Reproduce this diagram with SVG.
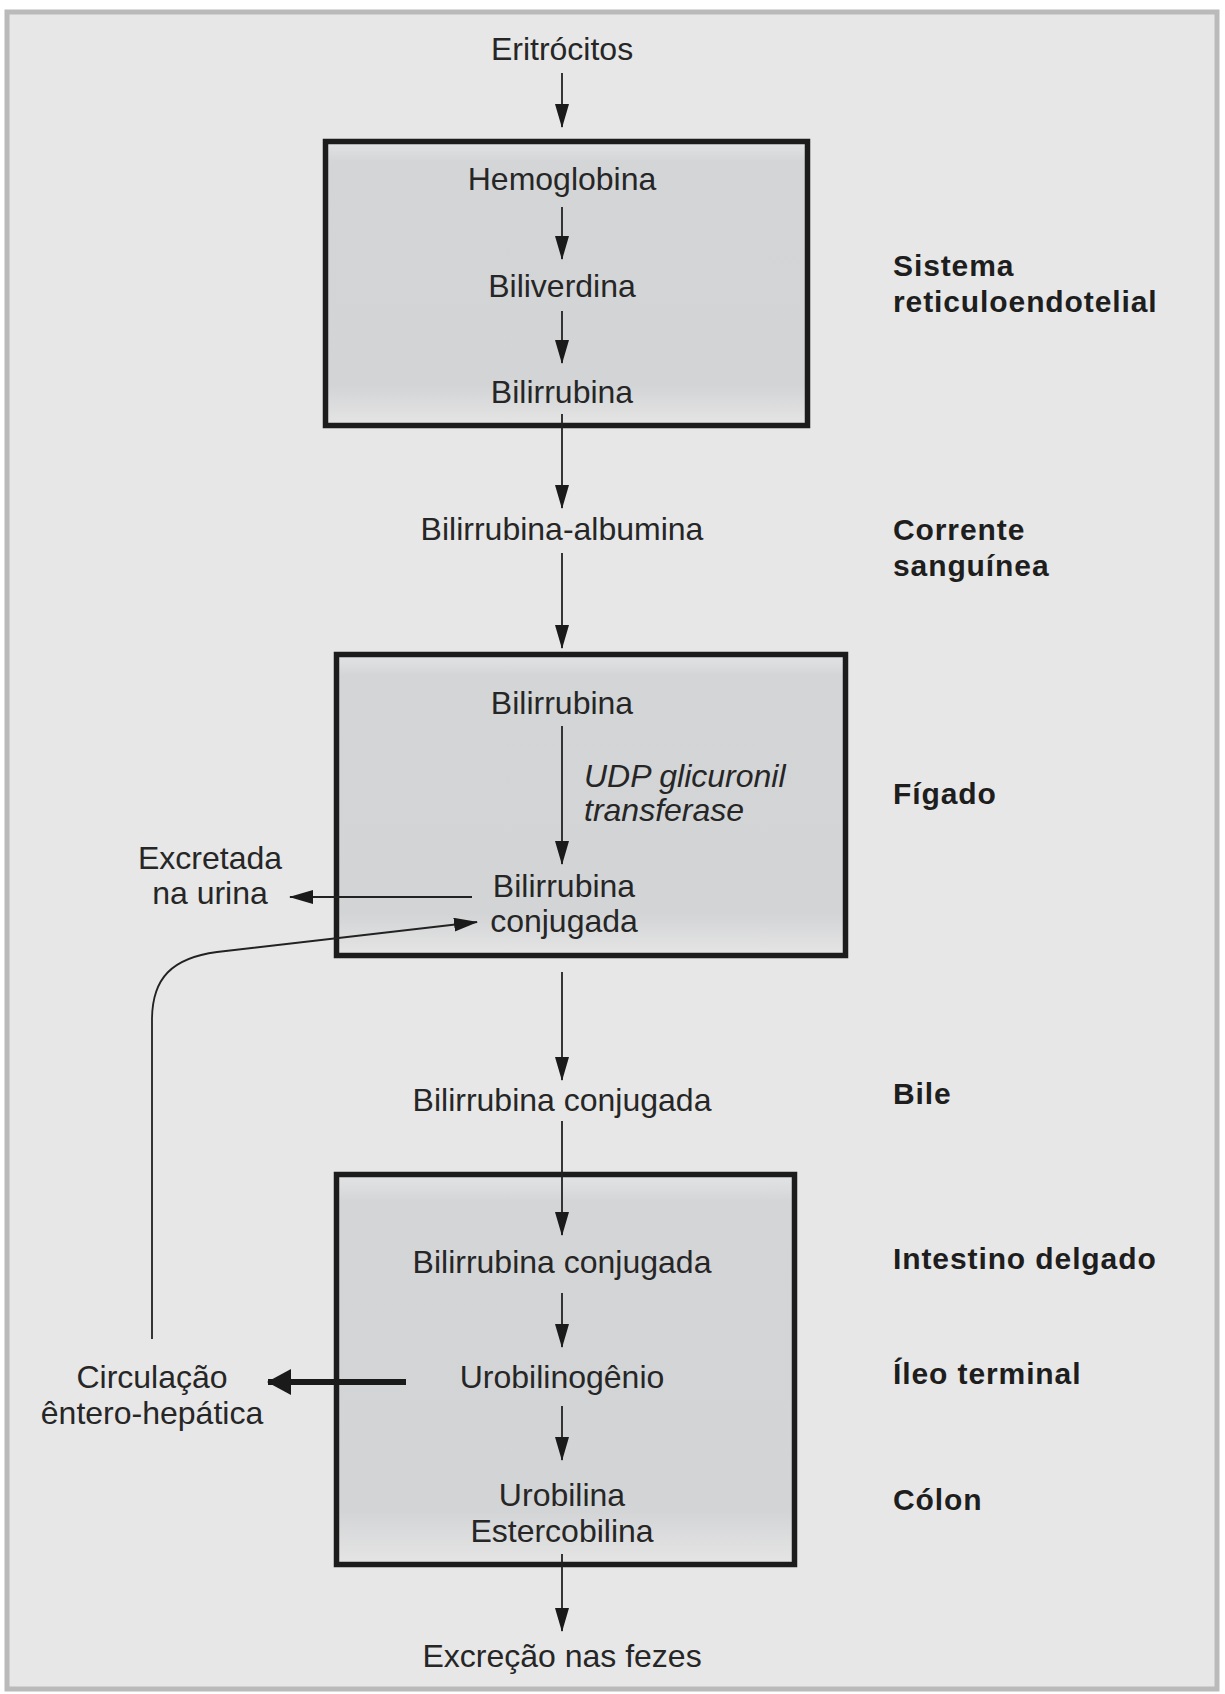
<svg xmlns="http://www.w3.org/2000/svg" width="1225" height="1694" viewBox="0 0 1225 1694">
  <style>
    .lbl { font-family: "Liberation Sans", Arial, Helvetica, sans-serif; font-size: 32px; fill: #262626; text-anchor: middle; }
    .it { font-style: italic; text-anchor: start; }
    .side { font-family: "Liberation Sans", Arial, Helvetica, sans-serif; font-size: 30px; font-weight: bold; fill: #1e1e1e; letter-spacing: 0.9px; }
    .box { fill: url(#boxFill); stroke: #1c1c1c; stroke-width: 5.5; }
    .flow { fill: none; stroke: #222; stroke-width: 1.8; }
    .thick { fill: none; stroke: #1a1a1a; stroke-width: 6; }
  </style>
  <defs>
    <linearGradient id="boxFill" x1="0" y1="0" x2="0" y2="1">
      <stop offset="0" stop-color="#e3e4e5"/>
      <stop offset="0.07" stop-color="#d4d5d7"/>
      <stop offset="0.86" stop-color="#d3d4d6"/>
      <stop offset="1" stop-color="#e5e5e5"/>
    </linearGradient>
    <marker id="head" viewBox="0 0 24 14" refX="23" refY="7" markerWidth="24" markerHeight="14" markerUnits="userSpaceOnUse" orient="auto">
      <path d="M0,0 L24,7 L0,14 Z" fill="#1a1a1a"/>
    </marker>
    <marker id="headBig" viewBox="0 0 24 26" refX="23" refY="13" markerWidth="24" markerHeight="26" markerUnits="userSpaceOnUse" orient="auto">
      <path d="M0,0 L24,13 L0,26 Z" fill="#1a1a1a"/>
    </marker>
  </defs>

  <!-- page -->
  <rect x="0" y="0" width="1225" height="1694" fill="#ffffff"/>
  <rect x="7" y="12" width="1210" height="1677" fill="#e7e7e7" stroke="#bababa" stroke-width="5"/>

  <!-- boxes -->
  <g id="box-sre"><rect class="box" x="325.5" y="141.5" width="482" height="284"/></g>
  <g id="box-figado"><rect class="box" x="336.5" y="654.5" width="509" height="301"/></g>
  <g id="box-intestino"><rect class="box" x="336.5" y="1174.5" width="458" height="390"/></g>

  <!-- connectors -->
  <g id="connectors">
    <line class="flow" x1="562" y1="73" x2="562" y2="127" marker-end="url(#head)"/>
    <line class="flow" x1="562" y1="207" x2="562" y2="259" marker-end="url(#head)"/>
    <line class="flow" x1="562" y1="311" x2="562" y2="363" marker-end="url(#head)"/>
    <line class="flow" x1="562" y1="414" x2="562" y2="508" marker-end="url(#head)"/>
    <line class="flow" x1="562" y1="553" x2="562" y2="648" marker-end="url(#head)"/>
    <line class="flow" x1="562" y1="726" x2="562" y2="864" marker-end="url(#head)"/>
    <line class="flow" x1="472" y1="897" x2="290" y2="897" marker-end="url(#head)"/>
    <path class="flow" d="M152,1339 L152,1020 C152,978 172,958 217,952 L477,922" marker-end="url(#head)"/>
    <line class="flow" x1="562" y1="972" x2="562" y2="1080" marker-end="url(#head)"/>
    <line class="flow" x1="562" y1="1121" x2="562" y2="1235" marker-end="url(#head)"/>
    <line class="flow" x1="562" y1="1293" x2="562" y2="1347" marker-end="url(#head)"/>
    <line class="thick" x1="406" y1="1382" x2="268" y2="1382" marker-end="url(#headBig)"/>
    <line class="flow" x1="562" y1="1406" x2="562" y2="1460" marker-end="url(#head)"/>
    <line class="flow" x1="562" y1="1554" x2="562" y2="1631" marker-end="url(#head)"/>
  </g>

  <!-- nodes -->
  <g id="n-eritrocitos"><text class="lbl" x="562" y="60">Eritrócitos</text></g>
  <g id="n-hemoglobina"><text class="lbl" x="562" y="190">Hemoglobina</text></g>
  <g id="n-biliverdina"><text class="lbl" x="562" y="297">Biliverdina</text></g>
  <g id="n-bilirrubina1"><text class="lbl" x="562" y="403">Bilirrubina</text></g>
  <g id="n-albumina"><text class="lbl" x="562" y="540">Bilirrubina-albumina</text></g>
  <g id="n-bilirrubina2"><text class="lbl" x="562" y="714">Bilirrubina</text></g>
  <g id="n-enzima">
    <text class="lbl it" x="584" y="787">UDP glicuronil</text>
    <text class="lbl it" x="584" y="821">transferase</text>
  </g>
  <g id="n-conjugada1">
    <text class="lbl" x="564" y="897">Bilirrubina</text>
    <text class="lbl" x="564" y="932">conjugada</text>
  </g>
  <g id="n-urina">
    <text class="lbl" x="210" y="869">Excretada</text>
    <text class="lbl" x="210" y="904">na urina</text>
  </g>
  <g id="n-conjugada-bile"><text class="lbl" x="562" y="1111">Bilirrubina conjugada</text></g>
  <g id="n-conjugada-int"><text class="lbl" x="562" y="1273">Bilirrubina conjugada</text></g>
  <g id="n-urobilinogenio"><text class="lbl" x="562" y="1388">Urobilinogênio</text></g>
  <g id="n-circulacao">
    <text class="lbl" x="152" y="1388">Circulação</text>
    <text class="lbl" x="152" y="1424">êntero-hepática</text>
  </g>
  <g id="n-urobilina">
    <text class="lbl" x="562" y="1506">Urobilina</text>
    <text class="lbl" x="562" y="1542">Estercobilina</text>
  </g>
  <g id="n-fezes"><text class="lbl" x="562" y="1667">Excreção nas fezes</text></g>

  <!-- compartment labels -->
  <g id="side-labels">
    <text class="side" x="893" y="276">Sistema</text>
    <text class="side" x="893" y="312">reticuloendotelial</text>
    <text class="side" x="893" y="540">Corrente</text>
    <text class="side" x="893" y="576">sanguínea</text>
    <text class="side" x="893" y="804">Fígado</text>
    <text class="side" x="893" y="1104">Bile</text>
    <text class="side" x="893" y="1269">Intestino delgado</text>
    <text class="side" x="893" y="1384">Íleo terminal</text>
    <text class="side" x="893" y="1510">Cólon</text>
  </g>
</svg>
